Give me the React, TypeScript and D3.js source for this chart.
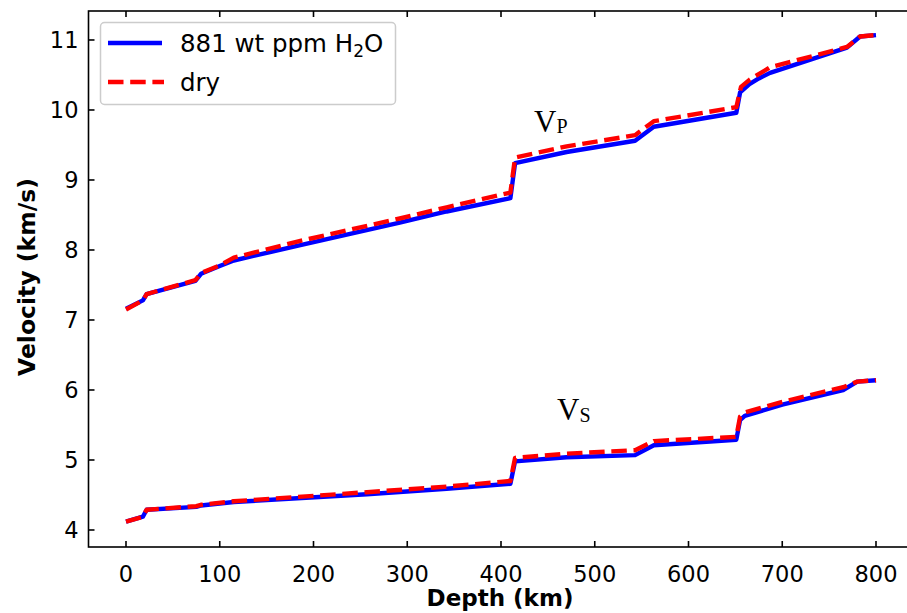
import React from "react";
import * as d3 from "d3";

// Depth (km) sample points and velocities (km/s) for each model
const vpWetDepth = [0, 18, 22, 74, 80, 100, 115, 186, 292, 342, 410, 415, 470, 543, 563, 651, 655, 665, 675, 687, 769, 783, 800];
const vpWet = [7.16, 7.28, 7.37, 7.56, 7.66, 7.77, 7.85, 8.07, 8.39, 8.55, 8.74, 9.24, 9.4, 9.56, 9.76, 9.96, 10.25, 10.37, 10.45, 10.53, 10.89, 11.05, 11.07];

const vpDryDepth = [0, 18, 22, 74, 80, 100, 115, 186, 292, 342, 410, 415, 470, 543, 563, 651, 656, 665, 687, 769, 783, 800];
const vpDry = [7.15, 7.28, 7.37, 7.57, 7.67, 7.78, 7.89, 8.13, 8.45, 8.61, 8.82, 9.32, 9.48, 9.64, 9.84, 10.04, 10.33, 10.43, 10.61, 10.9, 11.05, 11.07];

const vsWetDepth = [0, 18, 22, 75, 80, 115, 257, 342, 410, 415, 470, 543, 563, 651, 655, 660, 700, 765, 780, 800];
const vsWet = [4.12, 4.19, 4.29, 4.33, 4.35, 4.4, 4.51, 4.59, 4.66, 4.98, 5.04, 5.07, 5.21, 5.29, 5.57, 5.63, 5.79, 6.0, 6.12, 6.14];

const vsDryDepth = [0, 18, 22, 75, 80, 115, 257, 342, 410, 415, 470, 543, 563, 651, 655, 660, 700, 765, 780, 800];
const vsDry = [4.12, 4.19, 4.29, 4.34, 4.36, 4.41, 4.54, 4.62, 4.7, 5.03, 5.09, 5.14, 5.27, 5.33, 5.62, 5.68, 5.83, 6.04, 6.12, 6.14];

const xTicks = [0, 100, 200, 300, 400, 500, 600, 700, 800];
const yTicks = [4, 5, 6, 7, 8, 9, 10, 11];

const W = 907;
const H = 613;
const left = 88.5, right = 913.5, top = 11, bottom = 547;

const x = d3.scaleLinear().domain([-40, 840]).range([left, right]);
const y = d3.scaleLinear().domain([3.757, 11.414]).range([bottom, top]);

const line = d3
  .line<[number, number]>()
  .x((d) => x(d[0]))
  .y((d) => y(d[1]));

const pts = (ds: number[], vs: number[]) => ds.map((d, i) => [d, vs[i]] as [number, number]);

const BLUE = "#0000ff";
const RED = "#ff0000";
const LW = 4.4;
const DASH = "15.5,6.7";
const SANS = "'DejaVu Sans', sans-serif";
const SERIF = "'Liberation Serif', 'DejaVu Serif', serif";

export default function App() {
  const tickLen = 6;
  return (
    <div style={{ position: "absolute", left: 0, top: 0 }}>
      <svg width={W} height={H} style={{ display: "block", background: "#fff" }}>
        <defs>
          <clipPath id="plot">
            <rect x={left} y={top} width={right - left} height={bottom - top} />
          </clipPath>
        </defs>

        {/* velocity profiles */}
        <g clipPath="url(#plot)" fill="none" strokeLinejoin="round">
          <path d={line(pts(vpWetDepth, vpWet)) || ""} stroke={BLUE} strokeWidth={LW} />
          <path d={line(pts(vsWetDepth, vsWet)) || ""} stroke={BLUE} strokeWidth={LW} />
          <path d={line(pts(vpDryDepth, vpDry)) || ""} stroke={RED} strokeWidth={LW} strokeDasharray={DASH} />
          <path d={line(pts(vsDryDepth, vsDry)) || ""} stroke={RED} strokeWidth={LW} strokeDasharray={DASH} />
        </g>

        {/* frame */}
        <rect x={left} y={top} width={right - left} height={bottom - top} fill="none" stroke="#000" strokeWidth={1.6} />

        {/* x ticks (inward, bottom and top) */}
        {xTicks.map((t) => (
          <g key={"x" + t}>
            <line x1={x(t)} x2={x(t)} y1={bottom} y2={bottom - tickLen} stroke="#000" strokeWidth={1.6} />
            <line x1={x(t)} x2={x(t)} y1={top} y2={top + tickLen} stroke="#000" strokeWidth={1.6} />
            <text x={x(t)} y={bottom + 35} textAnchor="middle" fontFamily={SANS} fontSize={22.5} fill="#000">
              {t}
            </text>
          </g>
        ))}

        {/* y ticks (inward, left and right) */}
        {yTicks.map((t) => (
          <g key={"y" + t}>
            <line x1={left} x2={left + tickLen} y1={y(t)} y2={y(t)} stroke="#000" strokeWidth={1.6} />
            <line x1={right} x2={right - tickLen} y1={y(t)} y2={y(t)} stroke="#000" strokeWidth={1.6} />
            <text x={left - 10} y={y(t) + 8} textAnchor="end" fontFamily={SANS} fontSize={22.5} fill="#000">
              {t}
            </text>
          </g>
        ))}

        {/* axis titles */}
        <text x={500} y={606} textAnchor="middle" fontFamily={SANS} fontWeight="bold" fontSize={23} fill="#000">
          Depth (km)
        </text>
        <text
          transform={`translate(35,${(top + bottom) / 2 - 2}) rotate(-90)`}
          textAnchor="middle"
          fontFamily={SANS}
          fontWeight="bold"
          fontSize={23.5}
          fill="#000"
        >
          Velocity (km/s)
        </text>

        {/* curve annotations */}
        <text x={534} y={132} fontFamily={SERIF} fontSize={31} fill="#000">
          V<tspan fontSize={20} dy={1}>P</tspan>
        </text>
        <text x={557} y={420} fontFamily={SERIF} fontSize={31} fill="#000">
          V<tspan fontSize={20} dy={2}>S</tspan>
        </text>

        {/* legend */}
        <g>
          <rect x={100.5} y={22.5} width={295} height={82} rx={4} fill="#fff" fillOpacity={0.8} stroke="#cccccc" strokeWidth={1.5} />
          <line x1={108} x2={162} y1={43} y2={43} stroke={BLUE} strokeWidth={LW} />
          <text x={180} y={52} fontFamily={SANS} fontSize={24.5} fill="#000">
            881 wt ppm H<tspan fontSize={17} dy={5}>2</tspan>
            <tspan dy={-5}>O</tspan>
          </text>
          <line x1={108} x2={164} y1={82} y2={82} stroke={RED} strokeWidth={LW} strokeDasharray={DASH} />
          <text x={180} y={91} fontFamily={SANS} fontSize={24.5} fill="#000">
            dry
          </text>
        </g>
      </svg>
    </div>
  );
}
